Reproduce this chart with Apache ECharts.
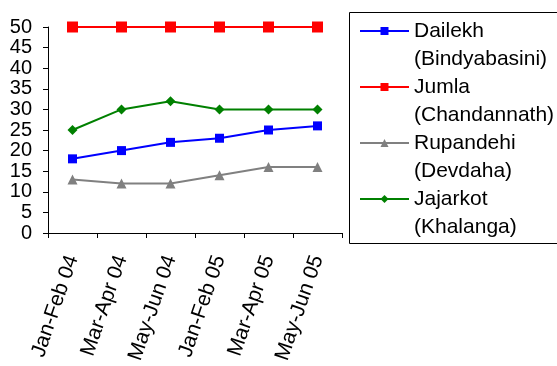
<!DOCTYPE html>
<html>
<head>
<meta charset="utf-8">
<script src="https://cdn.jsdelivr.net/npm/echarts@6/dist/echarts.min.js"></script>
<style>
html,body{margin:0;padding:0;background:#fff;}
#chart{width:557px;height:366px;}
</style>
</head>
<body>
<div id="chart"></div>
<script>
const categories = ["Jan-Feb 04", "Mar-Apr 04", "May-Jun 04", "Jan-Feb 05", "Mar-Apr 05", "May-Jun 05"];
const dailekh = [18, 20, 22, 23, 25, 26];
const jumla = [50, 50, 50, 50, 50, 50];
const rupandehi = [13, 12, 12, 14, 16, 16];
const jajarkot = [25, 30, 32, 30, 30, 30];
const seriesNames = ["Dailekh", "Jumla", "Rupandehi", "Jajarkot"];
const subNames = ["(Bindyabasini)", "(Chandannath)", "(Devdaha)", "(Khalanga)"];
const yTicks = { min: 0, max: 50, interval: 5 };

const FONT = "Liberation Sans, Arial, sans-serif";
const chart = echarts.init(document.getElementById('chart'), null, { renderer: 'canvas' });

function mkSeries(name, data, color, symbol, size) {
  return {
    name: name, type: 'line', data: data,
    symbol: symbol, symbolSize: size,
    lineStyle: { color: color, width: 2 },
    itemStyle: { color: color },
    emphasis: { disabled: true }
  };
}

const option = {
  animation: false,
  backgroundColor: '#fff',
  grid: { left: 48, right: 215, top: 27, bottom: 133, containLabel: false },
  xAxis: {
    type: 'category', data: categories, boundaryGap: true,
    axisLine: { lineStyle: { color: '#000', width: 1 } },
    axisTick: { show: true, length: 5, inside: false, lineStyle: { color: '#000' } },
    axisLabel: { rotate: 71, color: '#000', fontSize: 21, fontFamily: FONT, margin: 23, interval: 0 },
    splitLine: { show: false }
  },
  yAxis: {
    type: 'value', min: yTicks.min, max: yTicks.max, interval: yTicks.interval,
    axisLine: { show: true, lineStyle: { color: '#000', width: 1 } },
    axisTick: { show: true, length: 5, inside: false, lineStyle: { color: '#000' } },
    axisLabel: { color: '#000', fontSize: 20, fontFamily: FONT, margin: 16 },
    splitLine: { show: false }
  },
  legend: {
    orient: 'vertical', left: 359, top: -11,
    padding: 0, itemWidth: 49, itemHeight: 10, itemGap: -28,
    data: seriesNames,
    selectedMode: false,
    formatter: function (name) { return ' \n' + name + '\n' + subNames[seriesNames.indexOf(name)]; },
    textStyle: { color: '#000', fontSize: 21, fontFamily: FONT, lineHeight: 28 }
  },
  graphic: [{
    type: 'rect', silent: true,
    shape: { x: 349.5, y: 12.5, width: 230, height: 231 },
    style: { fill: 'none', stroke: '#000', lineWidth: 1 }
  }],
  series: [
    mkSeries("Dailekh", dailekh, '#0000FF', 'rect', 9),
    mkSeries("Jumla", jumla, '#FF0000', 'rect', 11),
    mkSeries("Rupandehi", rupandehi, '#808080', 'triangle', 10),
    mkSeries("Jajarkot", jajarkot, '#008000', 'diamond', 10)
  ]
};
chart.setOption(option);
</script>
</body>
</html>
